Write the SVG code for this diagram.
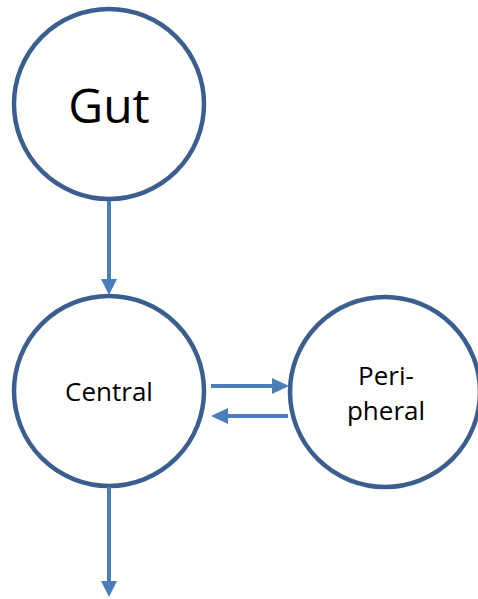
<svg xmlns="http://www.w3.org/2000/svg" width="478" height="599" viewBox="0 0 478 599">
<style>
.node{fill:#fff;stroke:#3A5F8F;stroke-width:4.5}
.lbl{font-family:"Open Sans","Noto Sans",sans-serif;fill:#000;text-anchor:middle}
.edge{stroke:#4A7EBB;stroke-width:4;fill:none}
.head{fill:#4A7EBB}
</style>
<rect width="478" height="599" fill="#fff"/>
<g id="gut">
<circle class="node" cx="109" cy="104" r="95"/>
<text class="lbl" x="109" y="123" font-size="48">Gut</text>
</g>
<g id="central">
<circle class="node" cx="109" cy="391" r="95"/>
<text class="lbl" x="109" y="401" font-size="26">Central</text>
</g>
<g id="peripheral">
<circle class="node" cx="385" cy="392" r="95"/>
<text class="lbl" x="386" y="385" font-size="26">Peri-</text>
<text class="lbl" x="386" y="420" font-size="26">pheral</text>
</g>
<g id="connectors">
<line class="edge" x1="109" y1="201" x2="109" y2="280"/>
<polygon class="head" points="101,279 117,279 109,295"/>
<line class="edge" x1="211" y1="386" x2="273" y2="386"/>
<polygon class="head" points="272,378 272,394 289,386"/>
<line class="edge" x1="288" y1="416" x2="227" y2="416"/>
<polygon class="head" points="228,408 228,424 211,416"/>
<line class="edge" x1="109" y1="487" x2="109" y2="582"/>
<polygon class="head" points="101,581 117,581 109,597"/>
</g>
</svg>
